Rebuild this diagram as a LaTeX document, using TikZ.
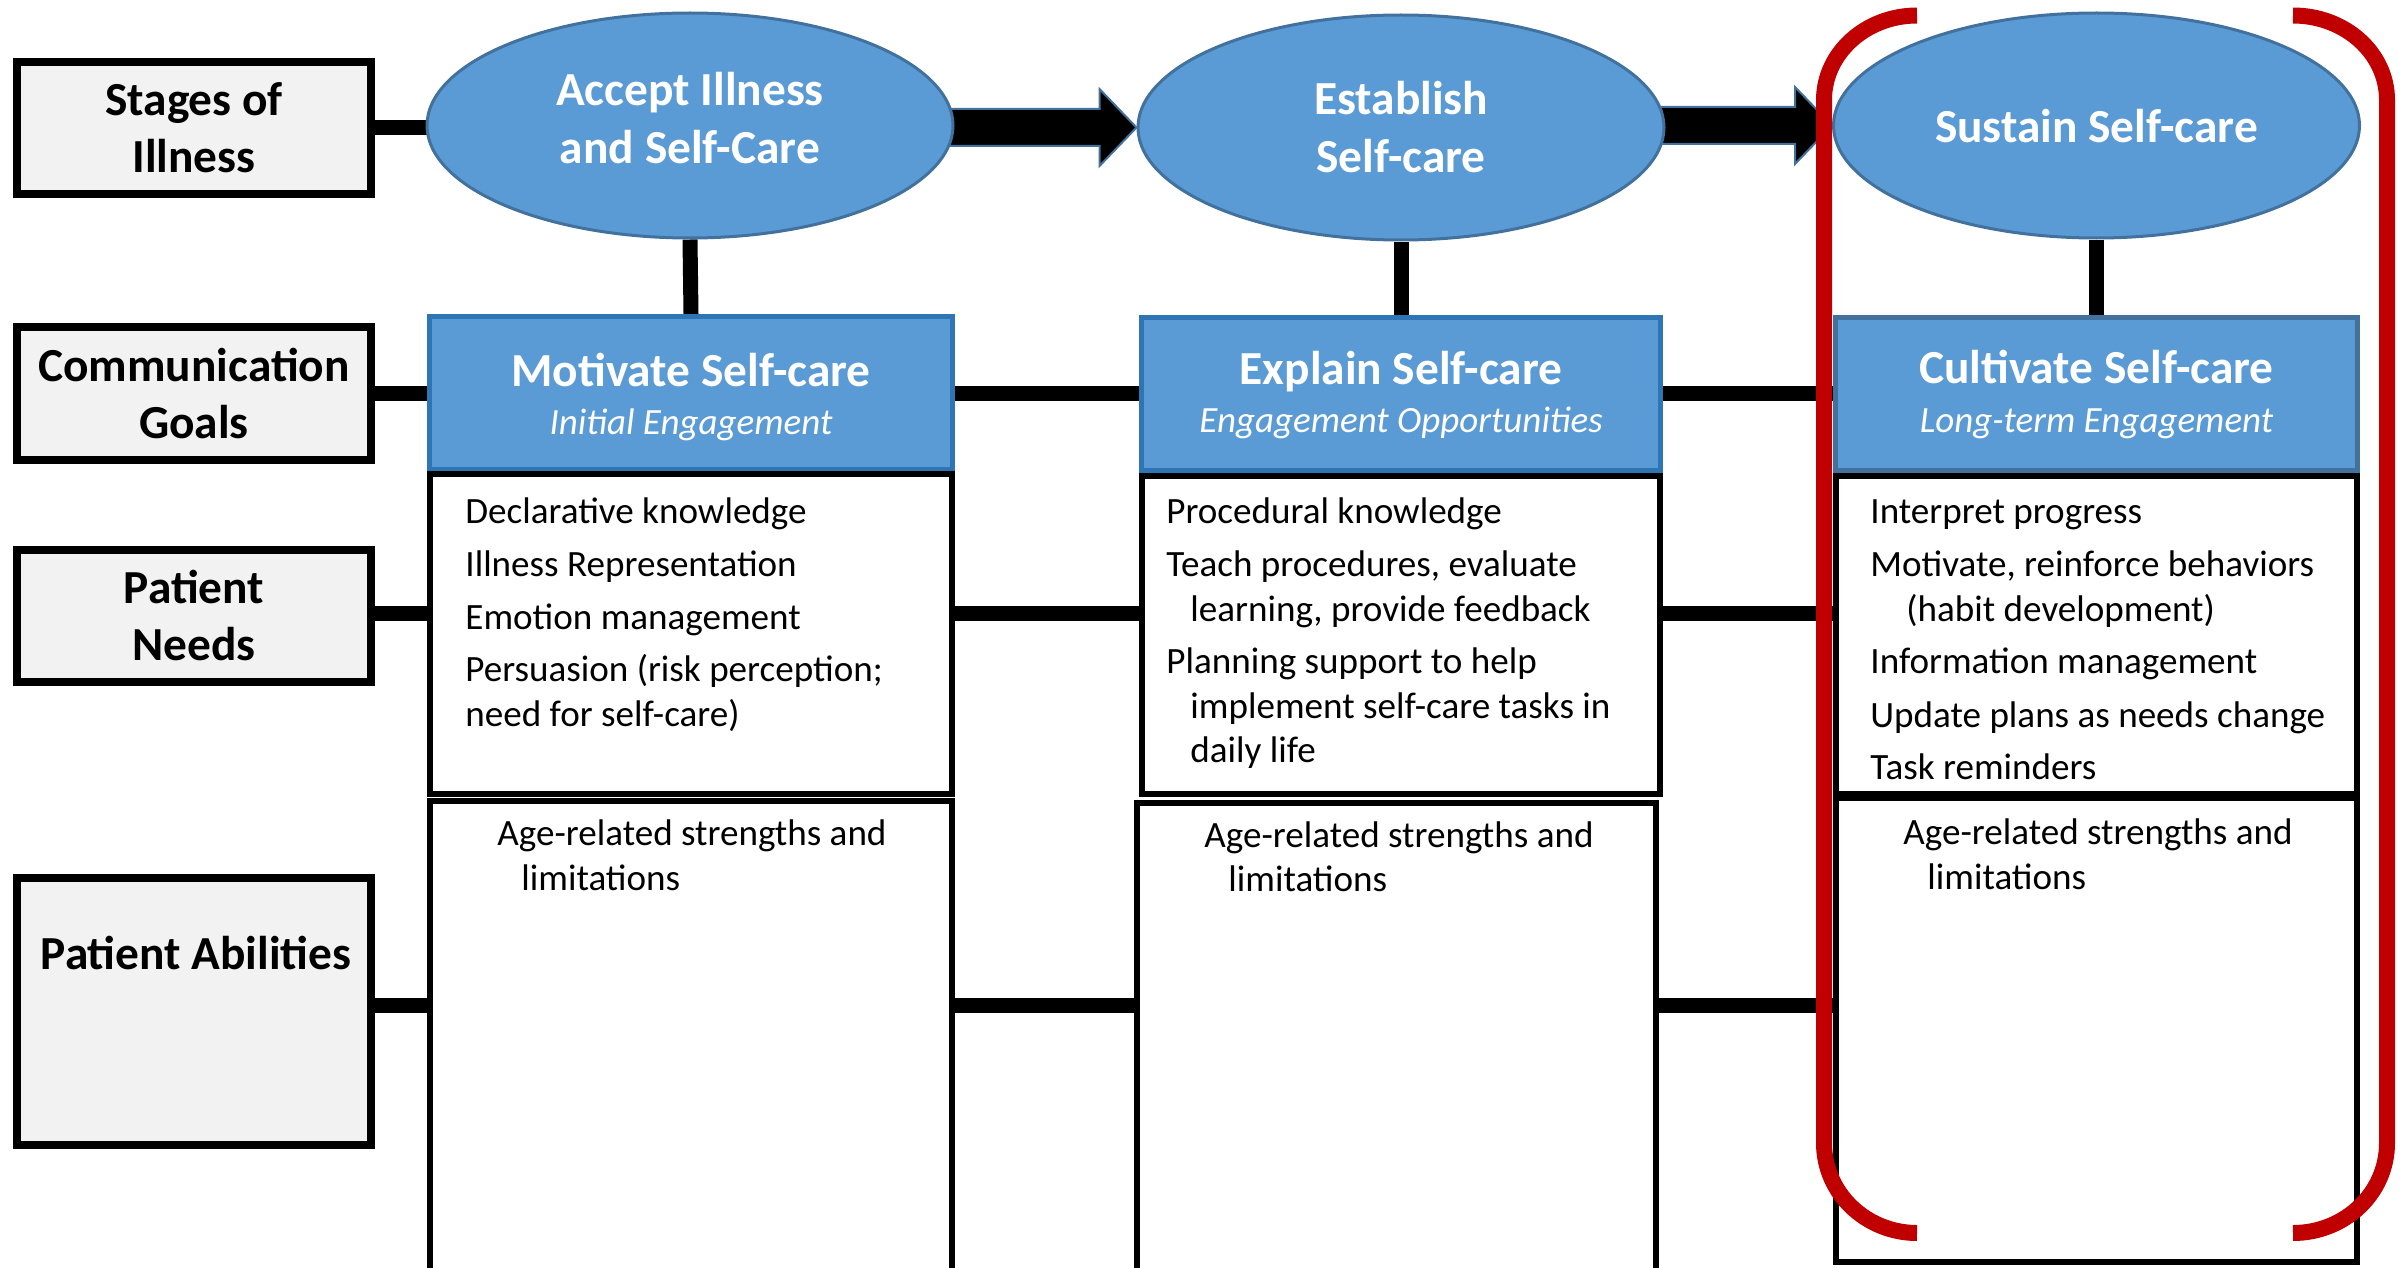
\documentclass[tikz,border=0pt]{standalone}
\usepackage{fontspec}
\setmainfont{Carlito}
\usetikzlibrary{shapes.geometric,calc}
\definecolor{bluefill}{HTML}{5B9BD5}
\definecolor{blueline}{HTML}{2E75B6}
\definecolor{steel}{HTML}{41719C}
\definecolor{lgray}{HTML}{F2F2F2}
\definecolor{bred}{HTML}{C00000}
\newcommand\myhead{\fontsize{23.7}{28.5}\selectfont\bfseries}
\newcommand\mysub{\fontsize{18.5}{22.5}\selectfont\itshape}
\newcommand\mybody{\fontsize{18.55}{22.5}\selectfont}
\pgfdeclarelayer{bg}
\pgfsetlayers{bg,main}
\begin{document}
\begin{tikzpicture}[x=0.5pt,y=-0.5pt,
  lab/.style={draw=black, line width=4pt, fill=lgray, minimum width=177pt, inner sep=0pt, align=center, font=\myhead},
  stage/.style={ellipse, draw=steel, line width=1.5pt, fill=bluefill, minimum width=263pt, minimum height=112.5pt, inner sep=0pt},
  goal/.style={draw=blueline, line width=2.5pt, fill=bluefill, minimum height=76.5pt, inner sep=0pt},
  itembox/.style={draw=black, line width=3pt, fill=white, inner sep=0pt},
  conn/.style={line width=7.5pt, draw=black},
  blockarr/.style={fill=black, draw=steel, line width=1pt},
  bracket/.style={draw=bred, line width=8pt},
  wtitle/.style={text=white, font=\myhead, anchor=base, inner sep=0pt},
  wsub/.style={text=white, font=\mysub, anchor=base, inner sep=0pt},
  itemtext/.style={font=\mybody, anchor=base west, inner sep=0pt},
  labtext/.style={font=\myhead, anchor=base, inner sep=0pt}]
\useasboundingbox (0,0) rectangle (2405,1268);

% row labels
\node[lab, minimum height=66pt] (stages) at (194,128) {Stages of\\Illness};
\node[lab, minimum height=66.5pt] (comm) at (194,393.5) {Communication\\Goals};
\node[lab, minimum height=66pt] (needs) at (194,616) {Patient\\Needs};
\node[lab, minimum height=133.5pt] (abil) at (194,1011.5) {};
\node[labtext] (abilt) at (196,969) {Patient Abilities};

% stages
\node[stage] (e1) at (690,125.5) {};
\node[wtitle] (e1a) at (690,105) {Accept Illness};
\node[wtitle] (e1b) at (690,163) {and Self-Care};
\node[stage] (e2) at (1401,127.5) {};
\node[wtitle] (e2a) at (1401,115) {Establish};
\node[wtitle] (e2b) at (1401,173) {Self-care};
\node[stage] (e3) at (2096.5,125.5) {};
\node[wtitle] (e3a) at (2096.5,142) {Sustain Self-care};

% goals
\node[goal, minimum width=261.5pt] (g1) at (691,393) {};
\node[wtitle] (g1a) at (691,386) {Motivate Self-care};
\node[wsub] (g1b) at (691,434) {Initial Engagement};
\node[goal, minimum width=259.5pt] (g2) at (1401,393.5) {};
\node[wtitle] (g2a) at (1401,384) {Explain Self-care};
\node[wsub] (g2b) at (1401,432) {Engagement Opportunities};
\node[goal, draw=steel, minimum width=261pt] (g3) at (2096.5,393.5) {};
\node[wtitle] (g3a) at (2096.5,383) {Cultivate Self-care};
\node[wsub] (g3b) at (2096.5,432) {Long-term Engagement};

% needs boxes
\node[itembox, minimum width=261pt, minimum height=160pt] (n1) at (691,633.5) {};
\node[itembox, minimum width=259pt, minimum height=159pt] (n2) at (1401,634.5) {};
\node[itembox, minimum width=260.5pt, minimum height=159pt] (n3) at (2096.5,634.5) {};
% abilities boxes
\node[itembox, minimum width=261pt, minimum height=249.5pt] (a1) at (691,1050.5) {};
\node[itembox, minimum width=259.5pt, minimum height=248.5pt] (a2) at (1396.5,1051.5) {};
\node[itembox, minimum width=260.5pt, minimum height=232pt] (a3) at (2096.5,1030) {};

% needs texts
\node[itemtext] (t11) at (465,523) {Declarative knowledge};
\node[itemtext] (t12) at (465,576) {Illness Representation};
\node[itemtext] (t13) at (465,629) {Emotion management};
\node[itemtext] (t14) at (465,681) {Persuasion (risk perception;};
\node[itemtext] (t15) at (465,726) {need for self-care)};

\node[itemtext] (t21) at (1166,523) {Procedural knowledge};
\node[itemtext] (t22) at (1166,576) {Teach procedures, evaluate};
\node[itemtext] (t23) at (1190,621) {learning, provide feedback};
\node[itemtext] (t24) at (1166,673) {Planning support to help};
\node[itemtext] (t25) at (1190,718) {implement self-care tasks in};
\node[itemtext] (t26) at (1190,762) {daily life};

\node[itemtext] (t31) at (1870,523) {Interpret progress};
\node[itemtext] (t32) at (1870,576) {Motivate, reinforce behaviors};
\node[itemtext] (t33) at (1906,621) {(habit development)};
\node[itemtext] (t34) at (1870,673) {Information management};
\node[itemtext] (t35) at (1870,727) {Update plans as needs change};
\node[itemtext] (t36) at (1870,779) {Task reminders};

% abilities texts
\node[itemtext] (u11) at (497,845) {Age-related strengths and};
\node[itemtext] (u12) at (521,890) {limitations};
\node[itemtext] (u21) at (1204,847) {Age-related strengths and};
\node[itemtext] (u22) at (1228,891) {limitations};
\node[itemtext] (u31) at (1903,844) {Age-related strengths and};
\node[itemtext] (u32) at (1927,889) {limitations};

% connector rows
\coordinate (nrow) at ($(needs.east)+(0,-3)$);
\coordinate (arow) at ($(abil.east)+(0,-6)$);

\begin{pgfonlayer}{bg}
  % row 1
  \draw[conn] (stages.east) -- ($(stages.east -| e1.west)+(20,0)$);
  \draw[blockarr] ($(e1.east |- e2.west)+(-10,-18.5)$) -- ($(e2.west)+(-37,-18.5)$) -- ($(e2.west)+(-37,-38.5)$) -- (e2.west) -- ($(e2.west)+(-37,38.5)$) -- ($(e2.west)+(-37,18.5)$) -- ($(e1.east |- e2.west)+(-10,18.5)$) -- cycle;
  \draw[blockarr] ($(e2.east |- e3.west)+(-10,-18.5)$) -- ($(e3.west)+(-37,-18.5)$) -- ($(e3.west)+(-37,-38.5)$) -- (e3.west) -- ($(e3.west)+(-37,38.5)$) -- ($(e3.west)+(-37,18.5)$) -- ($(e2.east |- e3.west)+(-10,18.5)$) -- cycle;
  % verticals
  \draw[conn] (e1.south) -- (g1.north);
  \draw[conn] (e2.south) -- (g2.north);
  \draw[conn] (e3.south) -- (g3.north);
  % row 2
  \draw[conn] (comm.east) -- (comm.east -| g1.west);
  \draw[conn] (g1.east |- comm.east) -- (comm.east -| g2.west);
  \draw[conn] (g2.east |- comm.east) -- (comm.east -| g3.west);
  % row 3
  \draw[conn] (nrow) -- (nrow -| n1.west);
  \draw[conn] (n1.east |- nrow) -- (nrow -| n2.west);
  \draw[conn] (n2.east |- nrow) -- (nrow -| n3.west);
  % row 4
  \draw[conn] (arow) -- (arow -| a1.west);
  \draw[conn] (a1.east |- arow) -- (arow -| a2.west);
  \draw[conn] (a2.east |- arow) -- (arow -| a3.west);
\end{pgfonlayer}

% red bracket
\draw[bracket] (1917,15.5) .. controls (1866,15.5) and (1824,53) .. (1824,100) -- (1824,1143) .. controls (1824,1193) and (1866,1233) .. (1917,1233);
\draw[bracket] (2293,15.5) .. controls (2345,15.5) and (2387,53) .. (2387,100) -- (2387,1143) .. controls (2387,1193) and (2345,1233) .. (2293,1233);
\end{tikzpicture}
\end{document}
